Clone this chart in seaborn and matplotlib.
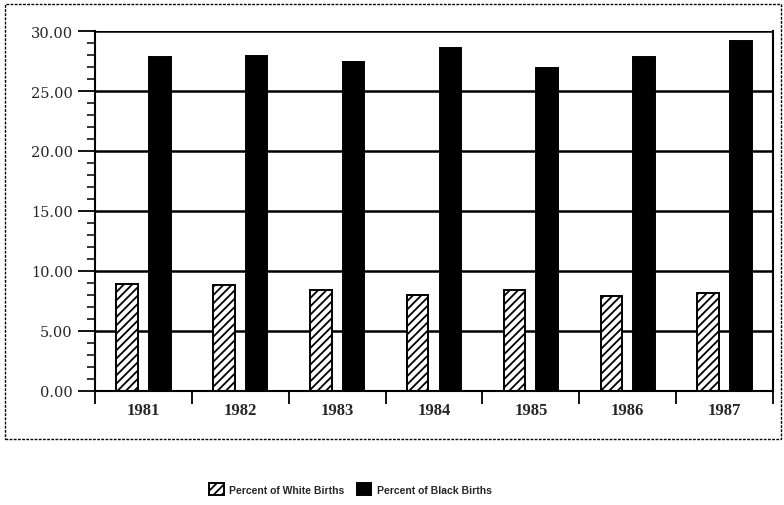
import pandas as pd
import seaborn as sns
import matplotlib.pyplot as plt
from matplotlib.patches import Rectangle
from matplotlib.ticker import MultipleLocator, FormatStrFormatter

years = ['1981', '1982', '1983', '1984', '1985', '1986', '1987']
white_births = [8.9, 8.8, 8.4, 8.0, 8.4, 7.95, 8.2]
black_births = [27.8, 27.9, 27.4, 28.6, 26.9, 27.8, 29.2]
series = ['Percent of White Births', 'Percent of Black Births']

df = pd.DataFrame({
    'year': years * 2,
    'value': white_births + black_births,
    'series': [series[0]] * len(years) + [series[1]] * len(years),
})

sns.set_theme(style="white")
plt.rcParams['hatch.linewidth'] = 1.3

fig = plt.figure(figsize=(7.84, 5.06), dpi=100)
# plot area: x 95..773 px, y 32..392 px
ax = fig.add_axes([95 / 784, 1 - 392 / 506, 678 / 784, 360 / 506])

sns.barplot(data=df, x='year', y='value', hue='series', order=years, hue_order=series,
            palette=['white', 'black'], width=0.675, gap=0.34, ax=ax,
            edgecolor='black', linewidth=1.4, saturation=1)

for bar in ax.containers[0]:
    bar.set_hatch('////')

ax.legend_.remove()

ax.set_ylim(0, 30)
ax.set_xlim(-0.5, len(years) - 0.5)
ax.yaxis.set_major_locator(MultipleLocator(5))
ax.yaxis.set_minor_locator(MultipleLocator(1))
ax.yaxis.set_major_formatter(FormatStrFormatter('%.2f'))
ax.grid(True, axis='y', color='black', linewidth=1.8)
ax.set_axisbelow(True)

# x ticks sit between the categories, labels in the middle
ax.set_xticks([i - 0.5 for i in range(len(years) + 1)])
ax.set_xticklabels([])
ax.set_xticks(range(len(years)), minor=True)
ax.set_xticklabels(years, minor=True, fontfamily='Liberation Serif', fontweight='bold', fontsize=12)
ax.tick_params(axis='x', which='major', direction='out', length=9.5, width=1.3, color='black', bottom=True)
ax.tick_params(axis='x', which='minor', length=0, pad=8)
ax.tick_params(axis='y', which='major', direction='out', length=12, width=1.3, color='black', left=True, pad=4)
ax.tick_params(axis='y', which='minor', direction='out', length=6, width=1.1, color='black', left=True)
for lab in ax.get_yticklabels():
    lab.set_fontfamily('DejaVu Serif')
    lab.set_fontsize(10.5)

ax.set_xlabel('')
ax.set_ylabel('')
for side in ['left', 'right', 'bottom']:
    ax.spines[side].set_color('black')
    ax.spines[side].set_linewidth(1.5)
ax.spines['top'].set_visible(False)

# outer frame around the chart
fig.patches.append(Rectangle((5 / 784, 1 - 440 / 506), 776 / 784, 435 / 506, transform=fig.transFigure,
                             fill=False, edgecolor='black', linewidth=1, linestyle=(0, (2, 1))))

handles = [ax.containers[0][0], ax.containers[1][0]]
fig.legend(handles, series, loc='center', bbox_to_anchor=(0.447, 0.031), ncol=2, frameon=False,
           handlelength=1.4, handleheight=1.4, columnspacing=1.2, handletextpad=0.5,
           prop={'family': 'Liberation Sans', 'size': 7.5, 'weight': 'bold'})

plt.savefig('out.png', dpi=100)
